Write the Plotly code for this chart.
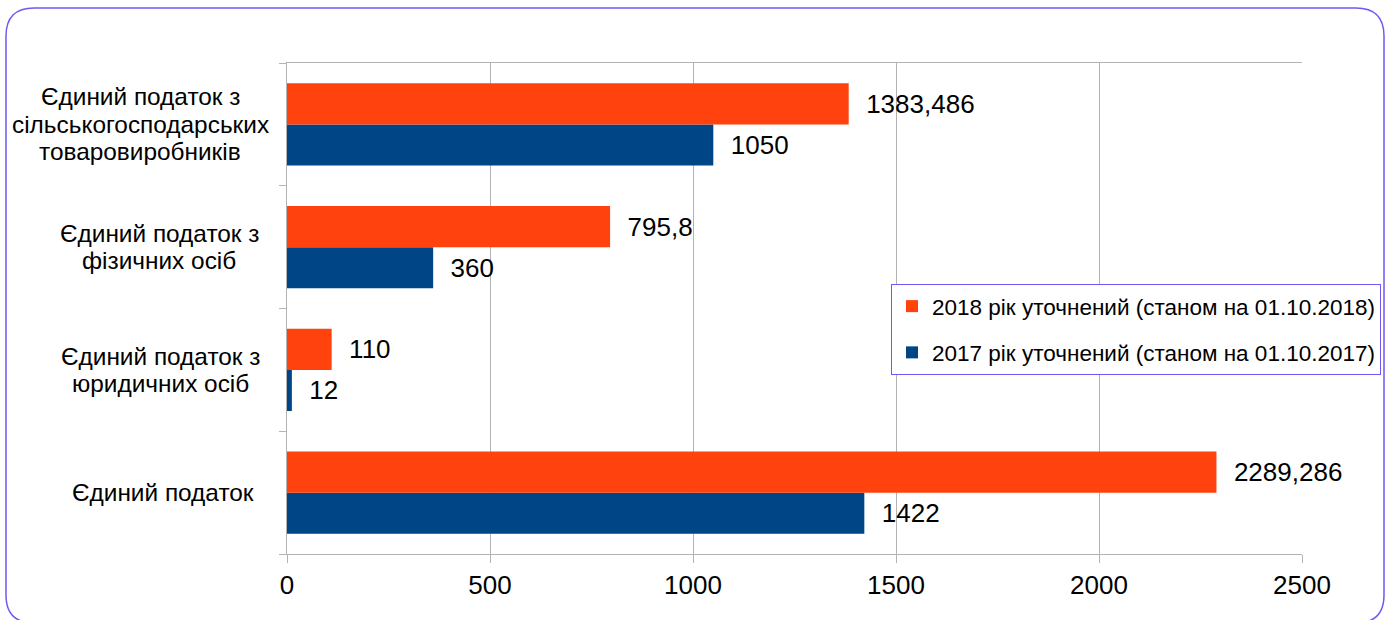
import plotly.graph_objects as go

categories = [
    "Єдиний податок",
    "Єдиний податок з юридичних осіб",
    "Єдиний податок з фізичних осіб",
    "Єдиний податок з сільськогосподарських товаровиробників",
]
category_labels = [
    "Єдиний податок",
    "Єдиний податок з<br>юридичних осіб",
    "Єдиний податок з<br>фізичних осіб",
    "Єдиний податок з<br>сільськогосподарських<br>товаровиробників",
]
values_2018 = [2289.286, 110, 795.8, 1383.486]
values_2017 = [1422, 12, 360, 1050]
name_2018 = "2018 рік уточнений (станом на 01.10.2018)"
name_2017 = "2017 рік уточнений (станом на 01.10.2017)"
x_ticks = [0, 500, 1000, 1500, 2000, 2500]

# styling: horizontal centre (pixels) of each category label block
label_centers_px = [163, 160, 159, 140]
LINE_STEP = 27.5

FONT = "Liberation Sans, Arial, sans-serif"
W, H = 1394, 620
ML, MR, MT, MB = 287, 92, 63, 66
PW, PH = W - ML - MR, H - MT - MB


def px(x):
    return (x - ML) / PW


def py(y):
    return (H - MB - y) / PH


def fmt(v):
    s = str(v).replace(".", ",")
    return "\u00a0\u00a0" + s


fig = go.Figure()
fig.add_trace(go.Bar(
    y=categories, x=values_2017, orientation="h", name=name_2017,
    marker=dict(color="#004586", line=dict(width=0)),
    text=[fmt(v) for v in values_2017], textposition="outside",
    textfont=dict(size=26, color="black", family=FONT),
    cliponaxis=False, constraintext="none", legendgroup="a", legendrank=2,
))
fig.add_trace(go.Bar(
    y=categories, x=values_2018, orientation="h", name=name_2018,
    marker=dict(color="#ff420e", line=dict(width=0)),
    text=[fmt(v) for v in values_2018], textposition="outside",
    textfont=dict(size=26, color="black", family=FONT),
    cliponaxis=False, constraintext="none", legendgroup="b", legendrank=1,
))

# rounded outer border
x0, y0, x1, y1, r = 6, 8, 1384, 623, 28
pts = [
    ("M", x0 + r, y0), ("L", x1 - r, y0), ("Q", x1, y0, x1, y0 + r),
    ("L", x1, y1 - r), ("Q", x1, y1, x1 - r, y1), ("L", x0 + r, y1),
    ("Q", x0, y1, x0, y1 - r), ("L", x0, y0 + r), ("Q", x0, y0, x0 + r, y0),
]
path = ""
for p in pts:
    cmd = p[0]
    coords = p[1:]
    parts = []
    for i in range(0, len(coords), 2):
        parts.append("%.5f,%.5f" % (px(coords[i]), py(coords[i + 1])))
    path += cmd + " " + " ".join(parts) + " "
path += "Z"

annotations = []
for cat, lab, cx in zip(categories, category_labels, label_centers_px):
    lines = lab.split("<br>")
    n = len(lines)
    for i, line in enumerate(lines):
        annotations.append(dict(
            x=px(cx), xref="paper", y=cat, yref="y", text=line,
            showarrow=False, xanchor="center", yanchor="middle", align="center",
            yshift=((n - 1) / 2 - i) * LINE_STEP,
            font=dict(size=24.4, color="black", family=FONT),
        ))

fig.update_layout(
    width=W, height=H, autosize=False,
    margin=dict(l=ML, r=MR, t=MT, b=MB, pad=0, autoexpand=False),
    paper_bgcolor="white", plot_bgcolor="white",
    barmode="group", bargap=0.33, bargroupgap=0,
    font=dict(family=FONT, color="black"),
    showlegend=True,
    legend=dict(
        x=px(891), y=py(284), xanchor="left", yanchor="top",
        bgcolor="white", bordercolor="#6f58f5", borderwidth=1,
        font=dict(size=22.5, color="black", family=FONT),
        traceorder="grouped", tracegroupgap=14,
    ),
    xaxis=dict(
        range=[0, 2500], tickvals=x_ticks, ticktext=[str(t) for t in x_ticks],
        showgrid=True, gridcolor="#b3b3b3", gridwidth=1,
        showline=True, linecolor="#b3b3b3", linewidth=1, mirror=True,
        ticks="outside", ticklen=8, tickcolor="#b3b3b3",
        tickfont=dict(size=26, color="black", family=FONT),
        zeroline=False, fixedrange=True,
    ),
    yaxis=dict(
        categoryorder="array", categoryarray=categories,
        showticklabels=False, showgrid=False,
        showline=True, linecolor="#b3b3b3", linewidth=1,
        ticks="outside", ticklen=7, tickcolor="#b3b3b3", tickson="boundaries",
        fixedrange=True,
    ),
    shapes=[dict(type="path", xref="paper", yref="paper", path=path,
                 line=dict(color="#6f58f5", width=1.5), layer="above")],
    annotations=annotations,
)

fig.write_html(
    "out.html",
    config={"responsive": False, "displayModeBar": False, "staticPlot": True},
    post_script="document.body.style.margin='0';document.body.style.overflow='hidden';",
)
